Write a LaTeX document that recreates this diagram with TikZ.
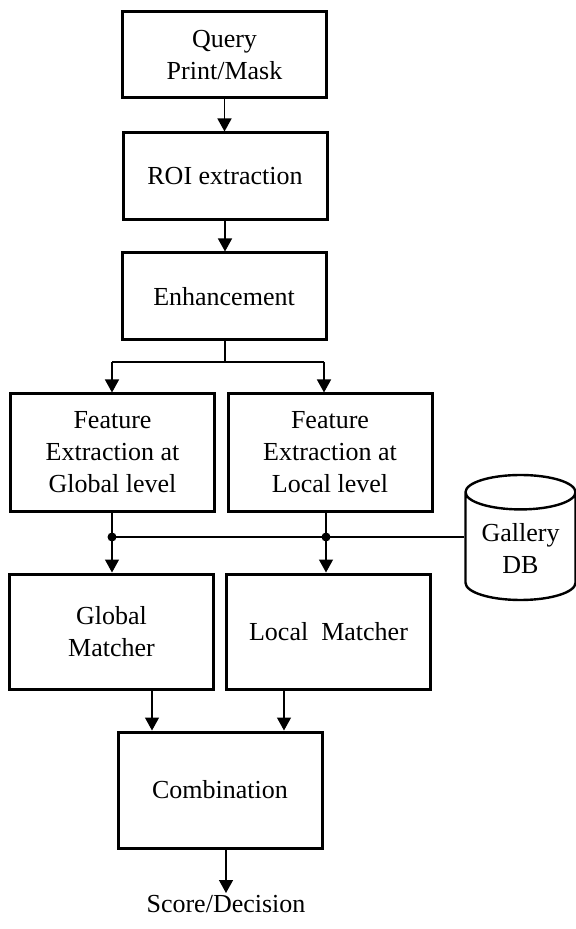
\documentclass[tikz,border=0pt]{standalone}
\usepackage{fontspec}
\setmainfont{Liberation Serif}
\usetikzlibrary{arrows.meta, shapes.geometric}
\tikzset{
  blk/.style   = {rectangle, draw, line width=1.5pt, fill=white, align=center,
                  font=\fontsize{13}{16}\selectfont, minimum width=102pt, inner sep=2pt},
  dbblk/.style = {cylinder, shape border rotate=90, draw, line width=1.2pt, fill=white,
                  aspect=0.42, align=center, font=\fontsize{13}{16}\selectfont,
                  minimum width=55pt, minimum height=62.5pt, inner sep=1pt},
  lbl/.style   = {font=\fontsize{13}{16}\selectfont, inner sep=1pt},
  flow/.style  = {-{Triangle[length=6.5pt,width=7pt]}, line width=0.7pt},
  busline/.style={line width=0.7pt},
  jdot/.style  = {circle, fill, inner sep=0pt, minimum size=4.5pt},
}
\begin{document}
\begin{tikzpicture}[x=0.5pt, y=-0.5pt]
        \useasboundingbox (0,0) rectangle (576,929);
        \node[blk, minimum height=43pt] (query) at (224.5,55)  {Query\\Print/Mask};
        \node[blk, minimum height=43.5pt] (roi)   at (225,176.5) {ROI extraction};
        \node[blk, minimum height=43.5pt] (enh)   at (224,296.5) {Enhancement};
        \node[blk, minimum height=58.5pt] (featG) at (112.5,452.5) {Feature\\Extraction at\\Global level};
        \node[blk, minimum height=58.5pt] (featL) at (330,452.5)   {Feature\\Extraction at\\Local level};
        \node[blk, minimum height=57.5pt] (matG)  at (111.5,631.5) {Global\\Matcher};
        \node[blk, minimum height=57.5pt] (matL)  at (328.5,631.5) {Local~~Matcher};
        \node[blk, minimum height=58pt]   (comb)  at (220,790)     {Combination};
        \node[lbl, anchor=north] (score) at (226,893) {Score/Decision};
        \node[dbblk] (gallery) at (520.5,549) {Gallery\\DB};
        % fork below enhancement
        \coordinate (fork)  at (225,362);
        \coordinate (forkL) at (324,362);
        \coordinate (dotG)  at (112,537);
        \coordinate (dotL)  at (326,537);
        \coordinate (inG)   at (152,0);
        \coordinate (inL)   at (284,0);
        \draw[flow] (query) -- (query |- roi.north);
        \draw[flow] (roi) -- (roi |- enh.north);
        \draw[busline] (fork |- enh.south) -- (fork);
        \draw[busline] (dotG |- fork) -- (forkL);
        \draw[flow] (dotG |- fork) -- (dotG |- featG.north);
        \draw[flow] (forkL) -- (forkL |- featL.north);
        % gallery bus
        \draw[busline] (dotG) -- (dotG -| gallery.west);
        \draw[flow] (dotG |- featG.south) -- (dotG |- matG.north);
        \draw[flow] (dotL |- featL.south) -- (dotL |- matL.north);
        \node[jdot] at (dotG) {};
        \node[jdot] at (dotL) {};
        \draw[flow] (inG |- matG.south) -- (inG |- comb.north);
        \draw[flow] (inL |- matL.south) -- (inL |- comb.north);
        \draw[flow] (score.north |- comb.south) -- (score.north);
    \end{tikzpicture}
\end{document}
